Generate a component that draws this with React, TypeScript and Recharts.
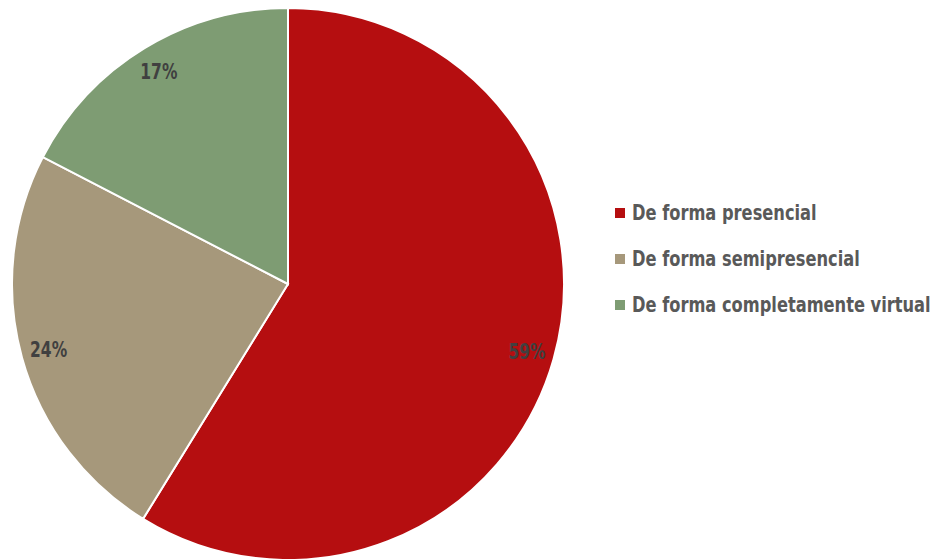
import { PieChart, Pie, Cell, Legend } from 'recharts';

const categories = ['De forma presencial', 'De forma semipresencial', 'De forma completamente virtual'];
const values = [58.8, 23.8, 17.4];
const colors = ['#B50E10', '#A6987B', '#7E9C73'];

const data = categories.map((name, i) => ({ name, value: values[i] }));

const FONT = '"DejaVu Sans Condensed", "Liberation Sans Narrow", sans-serif';
const RAD = Math.PI / 180;

function renderLabel(props: any) {
  const { cx, cy, outerRadius, midAngle, percent } = props;
  const r = outerRadius * 0.9;
  const x = cx + r * Math.cos(-midAngle * RAD);
  const y = cy + r * Math.sin(-midAngle * RAD);
  return (
    <text
      x={0}
      y={0}
      transform={`translate(${x},${y}) scale(0.82,1)`}
      fill="#404040"
      textAnchor="middle"
      dominantBaseline="central"
      fontFamily={FONT}
      fontWeight="bold"
      fontSize={21}
    >
      {`${Math.round(percent * 100)}%`}
    </text>
  );
}

function renderLegend() {
  return (
    <div style={{ fontFamily: FONT, fontWeight: 'bold', fontSize: 21, color: '#595959', whiteSpace: 'nowrap' }}>
      {categories.map((c, i) => (
        <div key={c} style={{ display: 'flex', alignItems: 'center', height: 46 }}>
          <span
            style={{
              display: 'inline-block',
              flexShrink: 0,
              width: 10,
              height: 10,
              background: colors[i],
              marginRight: 7,
            }}
          />
          <span style={{ display: 'inline-block', transform: 'scaleX(0.86)', transformOrigin: 'left center' }}>
            {c}
          </span>
        </div>
      ))}
    </div>
  );
}

export default function App() {
  return (
    <div style={{ position: 'fixed', left: 0, top: 0, width: 948, height: 559, background: '#fff', overflow: 'hidden' }}>
      <PieChart width={948} height={559} margin={{ top: 0, right: 0, bottom: 0, left: 0 }}>
        <Pie
          data={data}
          dataKey="value"
          cx={288}
          cy={284}
          outerRadius={276}
          startAngle={90}
          endAngle={-270}
          stroke="#ffffff"
          strokeWidth={2}
          label={renderLabel}
          labelLine={false}
          isAnimationActive={false}
        >
          {data.map((d, i) => (
            <Cell key={d.name} fill={colors[i]} />
          ))}
        </Pie>
        <Legend
          content={renderLegend}
          layout="vertical"
          wrapperStyle={{ position: 'absolute', left: 615, top: 190, width: 400 }}
        />
      </PieChart>
    </div>
  );
}
